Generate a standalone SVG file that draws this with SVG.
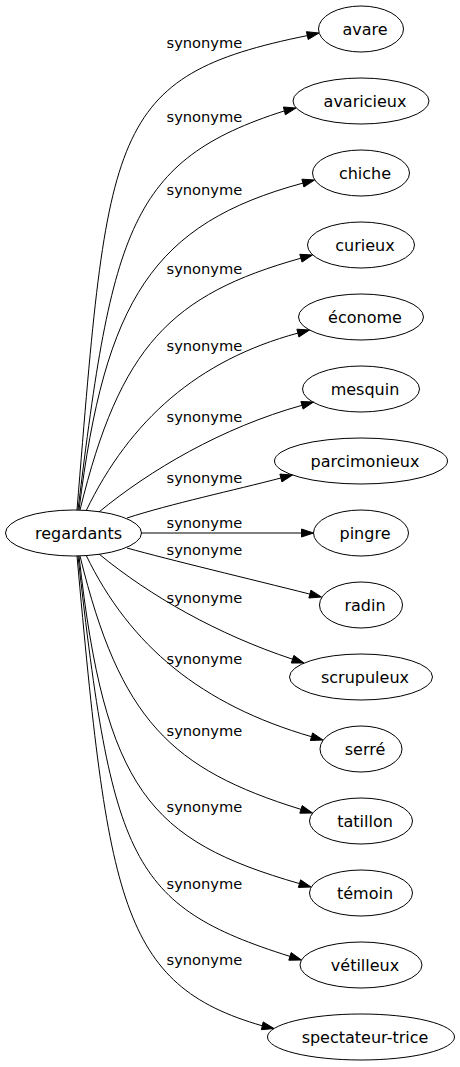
<svg xmlns="http://www.w3.org/2000/svg" width="460" height="1067" viewBox="0 0 460 1067">
<style>
.node ellipse{fill:none;stroke:#000;stroke-width:1}
.node text{font-family:"DejaVu Sans",Verdana,sans-serif;font-size:16px;text-anchor:middle;fill:#000}
.edge path{fill:none;stroke:#000;stroke-width:1}
.edge polygon{fill:#000;stroke:#000;stroke-width:1}
.edge text{font-family:"DejaVu Sans",Verdana,sans-serif;font-size:14.67px;fill:#000}
</style>
<rect width="460" height="1067" fill="#fff"/>
<g id="connectors">
<g class="edge" id="e1"><path d="M77,510 C108,130 108,76 307.3,35.6"/><polygon points="319,33 308.2,39.5 306.4,31.7"/><text x="166.5" y="48">synonyme</text></g>
<g class="edge" id="e2"><path d="M78,510 C112,230 130,160 284.4,110.9"/><polygon points="296,108 285.4,114.8 283.4,107"/><text x="166.5" y="122">synonyme</text></g>
<g class="edge" id="e3"><path d="M79,510 C105,300 152.9,223.6 302.9,183.1"/><polygon points="314.5,180 303.9,187 301.9,179.2"/><text x="166.5" y="195">synonyme</text></g>
<g class="edge" id="e4"><path d="M80,510 C120,346 170.9,294.6 300.9,258.2"/><polygon points="312.5,255 302,262.1 299.8,254.3"/><text x="166.5" y="274">synonyme</text></g>
<g class="edge" id="e5"><path d="M86,511 C130,420 197.9,360.1 297.9,333.1"/><polygon points="309.5,330 298.9,337 296.9,329.2"/><text x="166.5" y="351">synonyme</text></g>
<g class="edge" id="e6"><path d="M99,512 C150,470 222,427.6 302,405.3"/><polygon points="313.5,402 303.1,409.1 300.9,401.5"/><text x="166.5" y="422">synonyme</text></g>
<g class="edge" id="e7"><path d="M127,518 C170,504 235,490 280.9,478"/><polygon points="292.5,475 281.9,481.9 279.9,474.1"/><text x="166.5" y="483">synonyme</text></g>
<g class="edge" id="e8"><path d="M141.5,533 L301.5,533"/><polygon points="313.5,533 301.5,537 301.5,529"/><text x="166.5" y="528">synonyme</text></g>
<g class="edge" id="e9"><path d="M127,548 C170,560 250,579 309.9,594.1"/><polygon points="321.5,597 308.9,598 310.9,590.2"/><text x="166.5" y="555">synonyme</text></g>
<g class="edge" id="e10"><path d="M99,554 C150,596 217.6,634.4 292.6,659.2"/><polygon points="304,663 291.3,663 293.9,655.4"/><text x="166.5" y="603">synonyme</text></g>
<g class="edge" id="e11"><path d="M86,555 C130,646 201.5,704.8 311.5,736.7"/><polygon points="323,740 310.4,740.5 312.6,732.9"/><text x="166.5" y="664">synonyme</text></g>
<g class="edge" id="e12"><path d="M80,556 C120,720 171,769.1 301,809.4"/><polygon points="312.5,813 299.8,813.2 302.2,805.6"/><text x="166.5" y="736">synonyme</text></g>
<g class="edge" id="e13"><path d="M79,556 C105,790 149.5,840.5 299.5,883.6"/><polygon points="311,887 298.4,887.4 300.6,879.8"/><text x="166.5" y="812">synonyme</text></g>
<g class="edge" id="e14"><path d="M78,556 C112,860 130,906 290,956.4"/><polygon points="301.5,960 288.8,960.2 291.2,952.6"/><text x="166.5" y="889">synonyme</text></g>
<g class="edge" id="e15"><path d="M77,556 C108,900 120,985 262.3,1025.8"/><polygon points="274,1028.5 261.4,1029.7 263.2,1021.9"/><text x="166.5" y="965">synonyme</text></g>
</g>
<g class="node" id="n-regardants"><ellipse cx="73.5" cy="533" rx="68" ry="23"/><text x="78.5" y="539">regardants</text></g>
<g class="node" id="n-avare"><ellipse cx="361" cy="29" rx="42.5" ry="23"/><text x="365" y="35">avare</text></g>
<g class="node" id="n-avaricieux"><ellipse cx="361" cy="101" rx="68" ry="23"/><text x="365" y="107">avaricieux</text></g>
<g class="node" id="n-chiche"><ellipse cx="361" cy="173" rx="48.5" ry="23"/><text x="365" y="179">chiche</text></g>
<g class="node" id="n-curieux"><ellipse cx="361" cy="245" rx="53.5" ry="23"/><text x="365" y="251">curieux</text></g>
<g class="node" id="n-econome"><ellipse cx="361" cy="317" rx="62.5" ry="23"/><text x="365" y="323">économe</text></g>
<g class="node" id="n-mesquin"><ellipse cx="361" cy="389" rx="58.5" ry="23"/><text x="365" y="395">mesquin</text></g>
<g class="node" id="n-parcimonieux"><ellipse cx="361" cy="461" rx="86.5" ry="23"/><text x="365" y="467">parcimonieux</text></g>
<g class="node" id="n-pingre"><ellipse cx="361" cy="533" rx="47.5" ry="23"/><text x="365" y="539">pingre</text></g>
<g class="node" id="n-radin"><ellipse cx="361" cy="605" rx="41.5" ry="23"/><text x="365" y="611">radin</text></g>
<g class="node" id="n-scrupuleux"><ellipse cx="361" cy="677" rx="71.5" ry="23"/><text x="365" y="683">scrupuleux</text></g>
<g class="node" id="n-serre"><ellipse cx="361" cy="749" rx="41" ry="23"/><text x="365" y="755">serré</text></g>
<g class="node" id="n-tatillon"><ellipse cx="361" cy="821" rx="51.5" ry="23"/><text x="365" y="827">tatillon</text></g>
<g class="node" id="n-temoin"><ellipse cx="361" cy="893" rx="51.5" ry="23"/><text x="365" y="899">témoin</text></g>
<g class="node" id="n-vetilleux"><ellipse cx="361" cy="965" rx="61" ry="23"/><text x="365" y="971">vétilleux</text></g>
<g class="node" id="n-spectateur-trice"><ellipse cx="361" cy="1037" rx="93.5" ry="23"/><text x="365" y="1043">spectateur-trice</text></g>
</svg>
